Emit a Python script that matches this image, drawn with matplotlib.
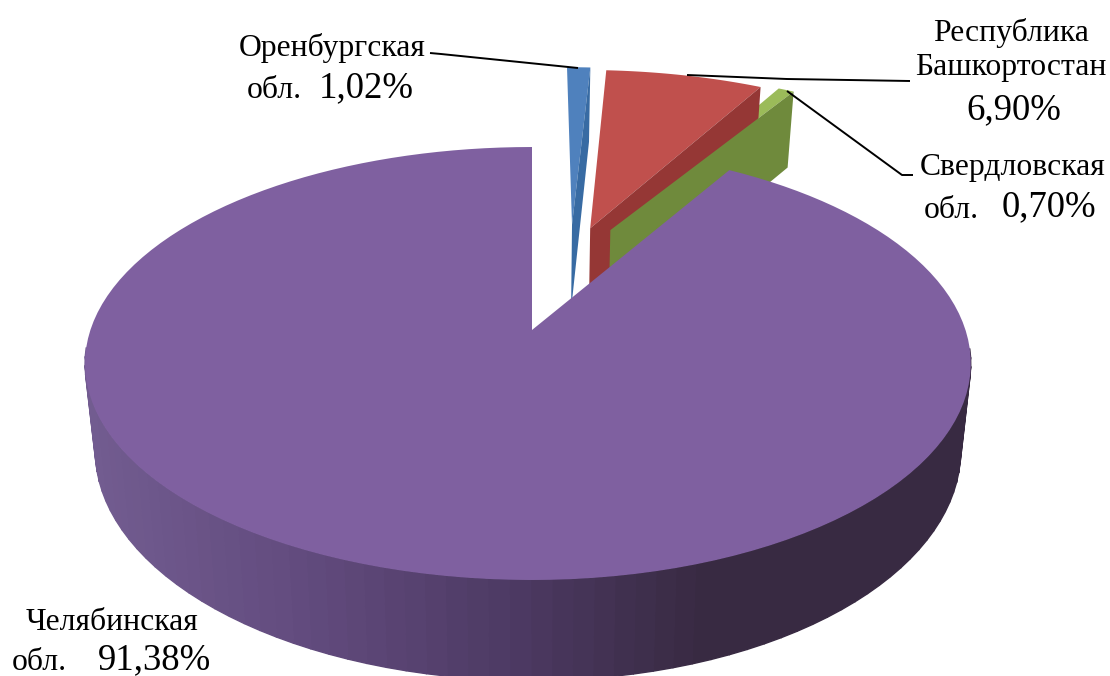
import numpy as np
import matplotlib
matplotlib.use('Agg')
import matplotlib.pyplot as plt
from matplotlib.patches import Polygon

# shares in percent, clockwise from 12 o'clock
regions = ['Оренбургская', 'Республика\nБашкортостан', 'Свердловская', 'Челябинская']
shares = [1.02, 6.90, 0.70, 91.38]
top_colors = ['#4f81bd', '#c0504d', '#9bbb59', '#7f60a0']
wall_colors = ['#386ba3', '#953735', '#6f8a3c', None]
# how far each slice is pulled out of the pie, in radius units
pull_x = [0.100, 0.145, 0.195, 0.0]
pull_y = [0.54, 0.52, 0.51, 0.0]
pulled_width = 1.04

x0, y0 = 532, 330
rx_left, rx_right, ry = 441.6, 433.5, 211.3
persp = 0.1547
depth = 85
pulled_depth = 92
bottom_scale = 0.977


def project(X, Y, down=0.0, scale=1.0):
    X = np.asarray(X, dtype=float)
    Y = np.asarray(Y, dtype=float)
    w = 1 + persp * Y
    rx = np.where(X < 0, rx_left, rx_right)
    return x0 + scale * rx * X / w, y0 - (ry * Y - down) / w


fig = plt.figure(figsize=(11.1, 6.76), dpi=100)
ax = fig.add_axes([0, 0, 1, 1])
ax.set_xlim(0, 1110)
ax.set_ylim(676, 0)
ax.axis('off')

edges = np.cumsum([0] + shares) / 100 * 2 * np.pi

# pulled-out slices first, the big one lies over them
for i in range(3):
    t = np.linspace(edges[i], edges[i + 1], 30)
    X = np.r_[pull_x[i], pull_x[i] + pulled_width * np.sin(t)]
    Y = np.r_[pull_y[i], pull_y[i] + np.cos(t)]
    px, py = project(X, Y)
    ax.add_patch(Polygon(np.c_[px, py], fc=top_colors[i], ec='none', zorder=2))
    # cut face on the clockwise side
    ex, ey = X[[0, -1]], Y[[0, -1]]
    ax1, ay1 = project(ex, ey)
    bx1, by1 = project(ex, ey, pulled_depth, bottom_scale)
    wall = np.c_[np.r_[ax1, bx1[::-1]], np.r_[ay1, by1[::-1]]]
    ax.add_patch(Polygon(wall, fc=wall_colors[i], ec='none', zorder=3))

# big slice: side wall in narrow facets, dark towards the right
t = np.linspace(edges[3], edges[4], 140)
X, Y = np.sin(t), np.cos(t)
tx, ty = project(X, Y)
bx, by = project(X, Y, depth, bottom_scale)
shade_x = [90, 300, 520, 700, 970]
shade = np.array([[0x72, 0x5c, 0x90], [0x62, 0x4b, 0x7e], [0x4c, 0x39, 0x62],
                  [0x38, 0x2a, 0x42], [0x38, 0x2a, 0x42]]) / 255
for j in range(len(t) - 1):
    if Y[j] > -0.1 and Y[j + 1] > -0.1:
        continue
    xm = (tx[j] + tx[j + 1]) / 2
    col = [np.interp(xm, shade_x, shade[:, c]) for c in range(3)]
    quad = [(tx[j], ty[j]), (tx[j + 1], ty[j + 1]), (bx[j + 1], by[j + 1]), (bx[j], by[j])]
    ax.add_patch(Polygon(quad, fc=col, ec=col, lw=1.0, zorder=4))
ax.add_patch(Polygon(np.c_[np.r_[x0, tx], np.r_[y0, ty]], fc=top_colors[3], ec='none', zorder=5))

# leader lines
leaders = [([430, 441, 578], [53, 54, 68]),
           ([687, 787, 910], [75, 79, 81]),
           ([787, 902, 913], [91, 175, 175])]
for lx, ly in leaders:
    ax.plot(lx, ly, color='black', lw=1.4, zorder=6, solid_capstyle='butt')

serif = 'Liberation Serif'
name_size = 22.8
val_size = 26.5


def val_text(v):
    return f'{v:.2f}'.replace('.', ',') + '%'


ax.text(332, 48, regions[0], family=serif, fontsize=name_size, ha='center', va='center')
ax.text(247, 90, 'обл.', family=serif, fontsize=name_size, ha='left', va='center')
ax.text(319, 88, val_text(shares[0]), family=serif, fontsize=val_size, ha='left', va='center')

ax.text(1011, 50, regions[1], family=serif, fontsize=name_size, ha='center', va='center', linespacing=1.25)
ax.text(1014, 110, val_text(shares[1]), family=serif, fontsize=val_size, ha='center', va='center')

ax.text(1013, 168, regions[2], family=serif, fontsize=name_size, ha='center', va='center')
ax.text(924, 210, 'обл.', family=serif, fontsize=name_size, ha='left', va='center')
ax.text(1002, 207, val_text(shares[2]), family=serif, fontsize=val_size, ha='left', va='center')

ax.text(112, 622, regions[3], family=serif, fontsize=name_size, ha='center', va='center')
ax.text(12, 662, 'обл.', family=serif, fontsize=name_size, ha='left', va='center')
ax.text(98, 660, val_text(shares[3]), family=serif, fontsize=val_size, ha='left', va='center')

fig.savefig('out.png', dpi=100)
